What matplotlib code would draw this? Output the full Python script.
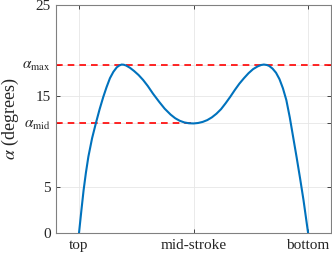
import matplotlib
matplotlib.use("Agg")
import matplotlib.pyplot as plt

# stroke position (0 = top, 0.5 = mid-stroke, 1 = bottom) and angle in degrees
stroke = [0, 0.01, 0.02, 0.03, 0.041, 0.057, 0.074, 0.09, 0.106, 0.12,
          0.135, 0.15, 0.165, 0.176, 0.186, 0.195, 0.205, 0.222, 0.24, 0.26,
          0.28, 0.30, 0.323, 0.35, 0.374, 0.40, 0.42, 0.44, 0.46, 0.48,
          0.5, 0.52, 0.54, 0.56, 0.58, 0.60, 0.62, 0.64, 0.66, 0.68,
          0.70, 0.72, 0.74, 0.76, 0.78, 0.795, 0.807, 0.82, 0.83, 0.845,
          0.86, 0.875, 0.89, 0.905, 0.92, 0.935, 0.95, 0.965, 0.98, 1.0]
alpha = [0, 2.4, 4.7, 6.6, 8.4, 10.4, 12.1, 13.6, 14.95, 16.0,
         17.0, 17.7, 18.2, 18.4, 18.5, 18.48, 18.4, 18.15, 17.8, 17.35,
         16.8, 16.15, 15.3, 14.4, 13.65, 13.0, 12.6, 12.32, 12.14, 12.05,
         12.03, 12.08, 12.2, 12.4, 12.7, 13.1, 13.6, 14.25, 14.95, 15.7,
         16.4, 17.0, 17.55, 18.0, 18.3, 18.45, 18.5, 18.45, 18.35, 18.05,
         17.6, 16.9, 15.9, 14.6, 12.7, 10.5, 8.3, 6.0, 3.6, 0]

alpha_max = 18.5
alpha_mid = 12.03

xtick_pos = [0, 0.5, 1]
xtick_labels = ['top', 'mid-stroke', 'bottom']
ytick_pos = [0, 5, alpha_mid, 15, alpha_max, 25]
ytick_labels = ['0', '5', r'$\alpha_{\rm mid}$', '15', r'$\alpha_{\rm max}$', '25']

plt.rcParams['font.family'] = ['Liberation Serif', 'DejaVu Serif']
plt.rcParams['mathtext.fontset'] = 'stix'

dark = '#262626'
fig = plt.figure(figsize=(3.32, 2.56), dpi=100)
ax = fig.add_axes([0.169, 0.09, 0.828, 0.889])

ax.plot([-0.1, 1.1], [alpha_max, alpha_max], color='red', ls=(0, (4, 3)), lw=1.2, zorder=2)
ax.plot([-0.1, 0.5], [alpha_mid, alpha_mid], color='red', ls=(0, (4, 3)), lw=1.2, zorder=2)
ax.plot(stroke, alpha, color='#0072BD', lw=1.5, zorder=3)

ax.set_xlim(-0.1, 1.1)
ax.set_ylim(0, 25)
ax.set_xticks(xtick_pos)
ax.set_xticklabels(xtick_labels)
ax.set_yticks(ytick_pos)
ax.set_yticklabels(ytick_labels)
ax.grid(True, color='#e6e6e6', lw=0.6, zorder=0)
ax.set_axisbelow(True)

ax.tick_params(direction='in', top=True, right=True, length=3, width=0.6,
               colors=dark, labelsize=11, pad=4)
for s in ax.spines.values():
    s.set_color('#808080')
    s.set_linewidth(0.8)

ax.set_ylabel(r'$\alpha$ (degrees)', fontsize=13, color=dark)
ax.yaxis.set_label_coords(-0.128, 0.5)

fig.savefig('out.png', dpi=100)
